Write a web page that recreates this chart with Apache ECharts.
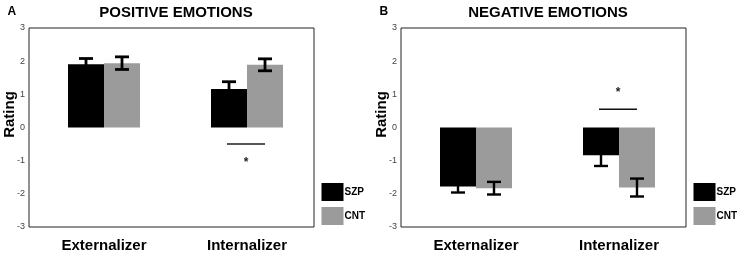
<!DOCTYPE html>
<html><head><meta charset="utf-8">
<script src="https://cdn.jsdelivr.net/npm/echarts@6/dist/echarts.min.js"></script>
<style>html,body{margin:0;padding:0;background:#fff}#c{width:744px;height:254px}</style>
</head><body><div id="c"></div>
<script>
// ---- data ----
const categories = ['Externalizer', 'Internalizer'];
const seriesNames = ['SZP', 'CNT'];
const yMin = -3, yMax = 3, yStep = 1;
const posSZP = [1.91, 1.16];
const posSZPErr = [0.17, 0.22];
const posCNT = [1.94, 1.89];
const posCNTErr = [0.19, 0.18];
const negSZP = [-1.78, -0.84];
const negSZPErr = [0.18, 0.32];
const negCNT = [-1.83, -1.81];
const negCNTErr = [0.19, 0.27];
// significance marker: [category index, line value, star value]
const posSig = [1, -0.5, -0.97];
const negSig = [1, 0.55, 1.15];
const panelTitles = ['POSITIVE EMOTIONS', 'NEGATIVE EMOTIONS'];
const panelLetters = ['A', 'B'];
const yAxisTitle = 'Rating';

// ---- styling ----
const FONT = "'Liberation Sans', Arial, sans-serif";
const GRAY = '#9b9b9b';
const BAR_W = 36;
const CAP_W = 14;

const chart = echarts.init(document.getElementById('c'), null, {renderer: 'canvas'});

function errRender(lw) {
  return function (params, api) {
    const x = api.value(0), m = api.value(1), e = api.value(2), slot = api.value(3);
    const top = api.coord([x, m + e]);
    const bot = api.coord([x, m - e]);
    const cx = top[0] + slot * BAR_W / 2;
    const hw = CAP_W / 2;
    const st = {stroke: '#000', lineWidth: lw};
    return {type: 'group', children: [
      {type: 'line', shape: {x1: cx, y1: top[1], x2: cx, y2: bot[1]}, style: st},
      {type: 'line', shape: {x1: cx - hw, y1: top[1], x2: cx + hw, y2: top[1]}, style: st},
      {type: 'line', shape: {x1: cx - hw, y1: bot[1], x2: cx + hw, y2: bot[1]}, style: st}
    ]};
  };
}
function sigRender(color, lw) {
  return function (params, api) {
    const x = api.value(0);
    const p = api.coord([x, api.value(1)]);
    const s = api.coord([x, api.value(2)]);
    return {type: 'group', children: [
      {type: 'line', shape: {x1: p[0] - 20, y1: p[1], x2: p[0] + 18, y2: p[1]}, style: {stroke: color, lineWidth: lw}},
      {type: 'text', x: s[0] - 1, y: s[1] + 3, style: {text: '*', font: 'bold 12px ' + FONT, fill: '#222', align: 'center', verticalAlign: 'middle'}}
    ]};
  };
}

const panels = [
  {dx: 0, szp: posSZP, szpE: posSZPErr, cnt: posCNT, cntE: posCNTErr, sig: posSig, sigColor: '#555', sigW: 2, errW: 2.8},
  {dx: 372, szp: negSZP, szpE: negSZPErr, cnt: negCNT, cntE: negCNTErr, sig: negSig, sigColor: '#111', sigW: 1.4, errW: 2.4}
];

const grid = [], xAxis = [], yAxis = [], series = [], title = [], legend = [], graphic = [];
panels.forEach((p, k) => {
  const box = grid.length, bars = box + 1;
  grid.push({left: 29 + p.dx, top: 28, width: 285, height: 199, show: true, borderColor: '#222', borderWidth: 1, backgroundColor: 'transparent'});
  grid.push({left: 32.5 + p.dx, top: 28, width: 286, height: 199});
  xAxis.push({gridIndex: box, type: 'category', data: categories, show: false});
  xAxis.push({gridIndex: bars, type: 'category', data: categories,
    axisLine: {show: false}, axisTick: {show: false},
    axisLabel: {fontSize: 15, fontWeight: 'bold', color: '#000', fontFamily: FONT, margin: 11}});
  yAxis.push({gridIndex: box, type: 'value', min: yMin, max: yMax, interval: yStep,
    axisLine: {show: false}, axisTick: {show: false}, splitLine: {show: false},
    axisLabel: {fontSize: 9, color: '#444', fontFamily: FONT, margin: 4}});
  yAxis.push({gridIndex: bars, type: 'value', min: yMin, max: yMax, interval: yStep, show: false, splitLine: {show: false}});
  series.push({name: seriesNames[0], type: 'bar', xAxisIndex: bars, yAxisIndex: bars, data: p.szp,
    barWidth: BAR_W, barGap: 0, itemStyle: {color: '#000'}, silent: true});
  series.push({name: seriesNames[1], type: 'bar', xAxisIndex: bars, yAxisIndex: bars, data: p.cnt,
    barWidth: BAR_W, barGap: 0, itemStyle: {color: GRAY}, silent: true});
  series.push({type: 'custom', xAxisIndex: bars, yAxisIndex: bars, z: 5, silent: true,
    renderItem: errRender(p.errW),
    data: categories.map((c, i) => [i, p.szp[i], p.szpE[i], -1]).concat(categories.map((c, i) => [i, p.cnt[i], p.cntE[i], 1]))});
  series.push({type: 'custom', xAxisIndex: bars, yAxisIndex: bars, z: 5, silent: true,
    renderItem: sigRender(p.sigColor, p.sigW), data: [p.sig]});
  title.push({text: panelLetters[k], left: 7.5 + p.dx, top: 6, padding: 0,
    textStyle: {fontSize: 12, fontWeight: 'bold', color: '#000', fontFamily: FONT}});
  title.push({text: panelTitles[k], left: 176 + p.dx, top: 5, padding: 0, textAlign: 'center',
    textStyle: {fontSize: 15, fontWeight: 'bold', color: '#000', fontFamily: FONT}});
  legend.push({data: seriesNames, left: 321.5 + p.dx, top: 183, orient: 'vertical', padding: 0,
    itemWidth: 22, itemHeight: 18, itemGap: 6, icon: 'rect', selectedMode: false,
    textStyle: {fontSize: 10, fontWeight: 'bold', color: '#000', fontFamily: FONT, padding: [0, 0, 0, -4]}});
  graphic.push({type: 'text', x: 10 + p.dx, y: 114.5, rotation: Math.PI / 2,
    style: {text: yAxisTitle, font: 'bold 15px ' + FONT, fill: '#000', align: 'center', verticalAlign: 'middle'}});
});

chart.setOption({animation: false, backgroundColor: '#fff', title, legend, grid, xAxis, yAxis, series, graphic});
</script></body></html>
